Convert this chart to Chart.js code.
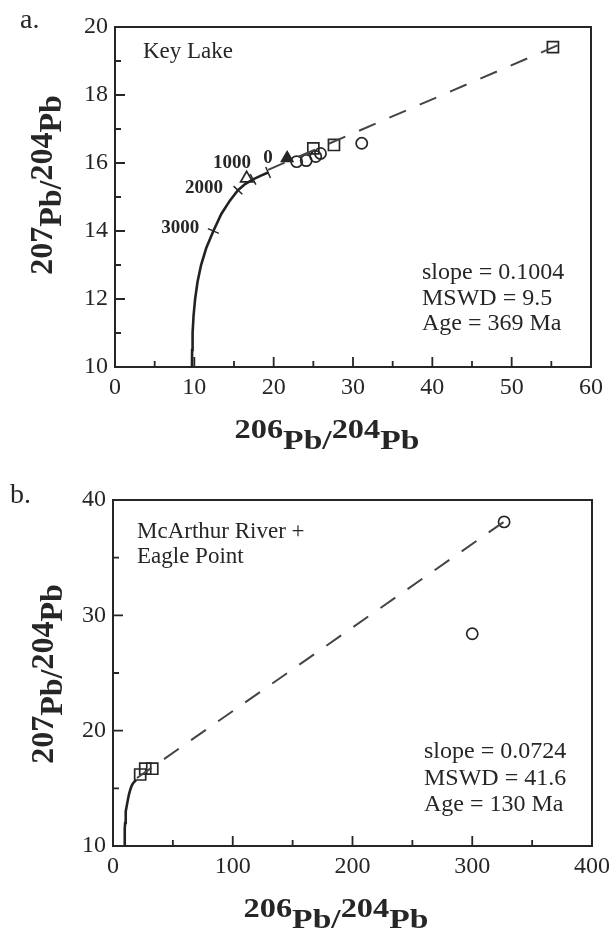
<!DOCTYPE html>
<html><head><meta charset="utf-8">
<script src="https://cdn.jsdelivr.net/npm/chart.js@4"></script>
<style>
html,body{margin:0;padding:0;background:#fff;}
#wrap{position:relative;width:609px;height:930px;overflow:hidden;}
.panel{position:absolute;left:0;width:609px;height:465px;}
canvas{display:block;}
</style></head><body>
<div id="wrap">
<div class="panel" style="top:0"><canvas id="ca" width="609" height="465"></canvas></div>
<div class="panel" style="top:465px"><canvas id="cb" width="609" height="465"></canvas></div>
</div>
<script>
// ---------- DATA ----------
// Pb growth curve (206Pb/204Pb, 207Pb/204Pb)
const curveX = [9.7, 9.72, 9.78, 9.9, 10.1, 10.4, 10.85, 11.5, 12.4, 13.4, 14.5, 15.5, 16.4, 17.4, 18.4, 19.3];
const curveY = [10.0, 10.5, 11.0, 11.5, 12.0, 12.5, 13.0, 13.5, 14.0, 14.5, 14.9, 15.2, 15.38, 15.52, 15.63, 15.72];
// age ticks on the growth curve (Ma)
const ageLabels = ['3000', '2000', '1000', '0'];
const ageTickX = [12.4, 15.5, 17.4, 19.3];
const ageTickY = [14.0, 15.2, 15.52, 15.72];

// Panel a: Key Lake
const aSquareX = [25.0, 27.6, 55.2];
const aSquareY = [16.43, 16.53, 19.41];
const aCircleX = [22.9, 24.1, 25.3, 25.9, 31.1];
const aCircleY = [16.04, 16.07, 16.19, 16.28, 16.58];
const aOpenTriX = [16.6];
const aOpenTriY = [15.55];
const aFilledTriX = [21.7];
const aFilledTriY = [16.14];
const aLineX = [19.3, 57.2];
const aLineY = [15.8, 19.6];
const aXTicks = [0, 10, 20, 30, 40, 50, 60];
const aXMinor = [5, 15, 25, 35, 45, 55];
const aYTicks = [10, 12, 14, 16, 18, 20];
const aYMinor = [11, 13, 15, 17, 19];
const aTitle = ['Key Lake'];
const aStats = ['slope = 0.1004', 'MSWD = 9.5', 'Age = 369 Ma'];

// Panel b: McArthur River + Eagle Point
const bSquareX = [22.7, 26.9, 32.8];
const bSquareY = [16.2, 16.7, 16.7];
const bCircleX = [326.6, 300];
const bCircleY = [38.1, 28.4];
const bLineX = [20, 336];
const bLineY = [15.9, 38.8];
const bXTicks = [0, 100, 200, 300, 400];
const bXMinor = [50, 150, 250, 350];
const bYTicks = [10, 20, 30, 40];
const bYMinor = [15, 25, 35];
const bTitle = ['McArthur River +', 'Eagle Point'];
const bStats = ['slope = 0.0724', 'MSWD = 41.6', 'Age = 130 Ma'];

// ---------- STYLE ----------
const INK = '#262626';
const SERIF = "'Liberation Serif', 'Times New Roman', serif";
const zip = (xs, ys) => xs.map((x, i) => ({x, y: ys[i]}));

function supTitle(ctx, parts, opt) {
  ctx.save();
  ctx.fillStyle = INK;
  ctx.textBaseline = 'alphabetic';
  ctx.textAlign = 'left';
  let total = 0;
  const widths = parts.map(p => {
    ctx.font = 'bold ' + (p[1] ? opt.supSize : opt.size) + 'px ' + SERIF;
    const w = ctx.measureText(p[0]).width;
    total += w;
    return w;
  });
  ctx.translate(opt.x, opt.y);
  if (opt.vertical) ctx.rotate(-Math.PI / 2);
  ctx.scale(opt.sx || 1, 1);
  let cx = -total / 2;
  parts.forEach((p, i) => {
    ctx.font = 'bold ' + (p[1] ? opt.supSize : opt.size) + 'px ' + SERIF;
    ctx.fillText(p[0], cx, p[1] ? -opt.raise : 0);
    cx += widths[i];
  });
  ctx.restore();
}

function makePanel(canvas, P) {
  const decor = {
    id: 'decor',
    beforeDatasetsDraw(chart) {
      const ctx = chart.ctx, a = chart.chartArea;
      const xs = chart.scales.x, ys = chart.scales.y;
      ctx.save();
      ctx.strokeStyle = INK;
      ctx.lineWidth = 2;
      ctx.strokeRect(a.left, a.top, a.right - a.left, a.bottom - a.top);
      ctx.lineWidth = 1.8;
      ctx.beginPath();
      const tick = (vals, len) => {
        vals.forEach(v => {
          const px = xs.getPixelForValue(v);
          ctx.moveTo(px, a.bottom); ctx.lineTo(px, a.bottom - len);
        });
      };
      const ytick = (vals, len) => {
        vals.forEach(v => {
          const py = ys.getPixelForValue(v);
          ctx.moveTo(a.left, py); ctx.lineTo(a.left + len, py);
        });
      };
      tick(P.xTicks, 10); tick(P.xMinor, 6);
      ytick(P.yTicks, 10); ytick(P.yMinor, 6);
      ctx.stroke();
      ctx.restore();
    },
    afterDatasetsDraw(chart) {
      const ctx = chart.ctx;
      const xs = chart.scales.x, ys = chart.scales.y;
      ctx.save();
      ctx.fillStyle = INK;
      ctx.font = '28px ' + SERIF;
      ctx.textAlign = 'left';
      ctx.textBaseline = 'alphabetic';
      ctx.fillText(P.letter, P.letterPos[0], P.letterPos[1]);
      ctx.font = '23px ' + SERIF;
      P.title.forEach((t, i) => ctx.fillText(t, P.titlePos[0], P.titlePos[1] + i * 25));
      ctx.font = '24px ' + SERIF;
      P.stats.forEach((t, i) => ctx.fillText(t, P.statsPos[0], P.statsPos[1] + i * P.statsGap));
      if (P.ageTicks) {
        ctx.strokeStyle = INK;
        ctx.lineWidth = 1.5;
        const cpx = curveX.map(v => xs.getPixelForValue(v));
        const cpy = curveY.map(v => ys.getPixelForValue(v));
        ctx.font = 'bold 19px ' + SERIF;
        ageTickX.forEach((vx, i) => {
          const px = xs.getPixelForValue(vx), py = ys.getPixelForValue(ageTickY[i]);
          let k = 0, best = 1e9;
          cpx.forEach((q, j) => { const d = (q - px) ** 2 + (cpy[j] - py) ** 2; if (d < best) { best = d; k = j; } });
          const k0 = Math.max(0, k - 1), k1 = Math.min(cpx.length - 1, k + 1);
          let dx = cpx[k1] - cpx[k0], dy = cpy[k1] - cpy[k0];
          const L = Math.hypot(dx, dy) || 1; dx /= L; dy /= L;
          ctx.beginPath();
          ctx.moveTo(px - dy * 6, py + dx * 6);
          ctx.lineTo(px + dy * 6, py - dx * 6);
          ctx.stroke();
          const o = P.ageLabelOffsets[i];
          ctx.textAlign = o[2];
          ctx.fillText(ageLabels[i], px + o[0], py + o[1]);
        });
      }
      ctx.restore();
      supTitle(ctx, [['206', true], ['Pb', false], ['/', false], ['204', true], ['Pb', false]],
        {x: P.xTitle[0], y: P.xTitle[1], size: 28, supSize: 27, raise: 11, sx: 1.2});
      supTitle(ctx, [['207', true], ['Pb', false], ['/', false], ['204', true], ['Pb', false]],
        {x: P.yTitle[0], y: P.yTitle[1], size: 32, supSize: 32, raise: 9, vertical: true});
    }
  };

  const pt = (data, style, r, fill) => ({
    data, showLine: false, pointStyle: style, pointRadius: r, pointHoverRadius: r,
    borderColor: INK, backgroundColor: fill || 'rgba(255,255,255,0)', pointBorderWidth: 1.7, borderWidth: 1.7
  });

  const datasets = [
    {data: zip(curveX, curveY), showLine: true, pointRadius: 0, borderColor: '#222', borderWidth: 2.6, fill: false},
    {data: zip(P.lineX, P.lineY), showLine: true, pointRadius: 0, borderColor: '#444', borderWidth: 2, borderDash: [18, 15], fill: false},
  ].concat(P.points.map(p => pt(p.data, p.style, p.r, p.fill)));

  return new Chart(canvas, {
    type: 'scatter',
    data: {datasets},
    options: {
      responsive: false, animation: false, devicePixelRatio: 1,
      events: [],
      layout: {padding: P.pad},
      plugins: {legend: {display: false}, tooltip: {enabled: false}},
      scales: {
        x: {
          type: 'linear', min: P.xMin, max: P.xMax,
          afterBuildTicks: s => { s.ticks = P.xTicks.map(v => ({value: v})); },
          afterFit: s => { s.height = P.xH; s.paddingLeft = 0; s.paddingRight = 0; },
          grid: {display: false, drawTicks: false},
          border: {display: false},
          ticks: {font: {family: SERIF, size: 24}, color: INK, padding: 6, autoSkip: false, maxRotation: 0}
        },
        y: {
          type: 'linear', min: P.yMin, max: P.yMax,
          afterBuildTicks: s => { s.ticks = P.yTicks.map(v => ({value: v})); },
          afterFit: s => { s.width = P.yW; s.paddingTop = 0; s.paddingBottom = 0; },
          grid: {display: false, drawTicks: false},
          border: {display: false},
          ticks: {font: {family: SERIF, size: 24}, color: INK, padding: 7, autoSkip: false}
        }
      }
    },
    plugins: [decor]
  });
}

makePanel(document.getElementById('ca'), {
  xMin: 0, xMax: 60, yMin: 10, yMax: 20,
  xTicks: aXTicks, xMinor: aXMinor, yTicks: aYTicks, yMinor: aYMinor,
  pad: {left: 0, top: 27, right: 18, bottom: 0}, yW: 115, xH: 98,
  lineX: aLineX, lineY: aLineY,
  points: [
    {data: zip(aSquareX, aSquareY), style: 'rect', r: 7.8},
    {data: zip(aCircleX, aCircleY), style: 'circle', r: 5.6},
    {data: zip(aOpenTriX, aOpenTriY), style: 'triangle', r: 7},
    {data: zip(aFilledTriX, aFilledTriY), style: 'triangle', r: 6.5, fill: INK}
  ],
  letter: 'a.', letterPos: [20, 28],
  title: aTitle, titlePos: [143, 58],
  stats: aStats, statsPos: [422, 279], statsGap: 25.5,
  ageTicks: true,
  ageLabelOffsets: [[-14, 2, 'right'], [-15, 3, 'right'], [-2, -11, 'right'], [0, -10, 'center']],
  xTitle: [327, 449], yTitle: [61, 185]
});

makePanel(document.getElementById('cb'), {
  xMin: 0, xMax: 400, yMin: 10, yMax: 40,
  xTicks: bXTicks, xMinor: bXMinor, yTicks: bYTicks, yMinor: bYMinor,
  pad: {left: 0, top: 35, right: 17, bottom: 0}, yW: 113, xH: 84,
  lineX: bLineX, lineY: bLineY,
  points: [
    {data: zip(bSquareX, bSquareY), style: 'rect', r: 7.8},
    {data: zip(bCircleX, bCircleY), style: 'circle', r: 5.6}
  ],
  letter: 'b.', letterPos: [10, 38],
  title: bTitle, titlePos: [137, 73],
  stats: bStats, statsPos: [424, 293], statsGap: 26.5,
  ageTicks: false,
  xTitle: [336, 463], yTitle: [62, 209]
});
</script>
</body></html>
